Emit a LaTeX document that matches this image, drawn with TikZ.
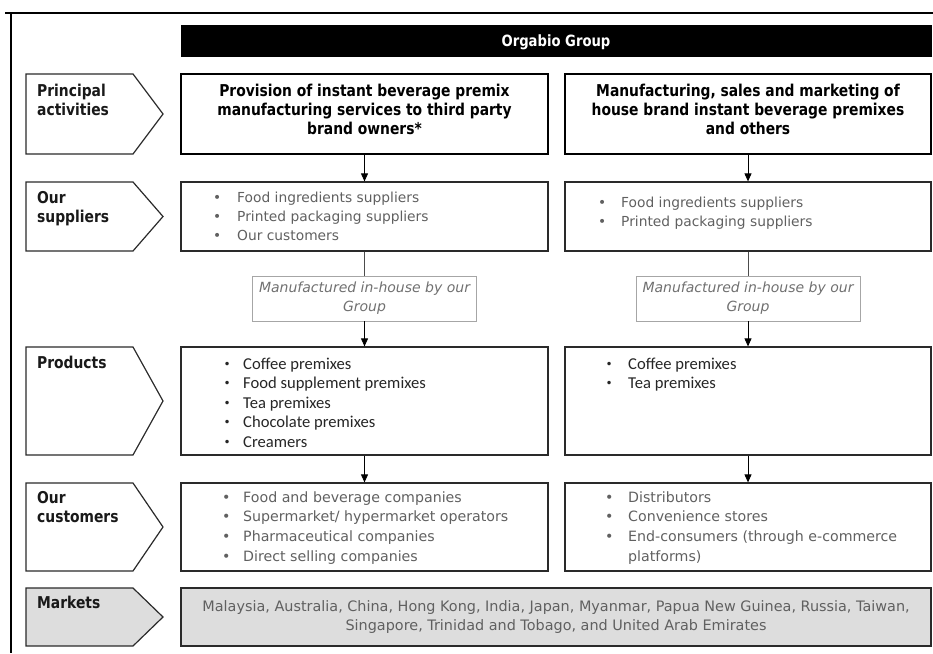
\documentclass[tikz,border=0pt]{standalone}
\usepackage{fontspec}
\setmainfont{DejaVu Sans}
\newfontfamily\calfont{Carlito}
\newfontfamily\hdfont[FakeStretch=0.85]{DejaVu Sans}
\usetikzlibrary{arrows.meta}
\definecolor{bodygray}{HTML}{606060}
\definecolor{itgray}{HTML}{707070}
\definecolor{mktfill}{HTML}{DDDDDD}
\definecolor{edge}{HTML}{2A2A2A}
\newcommand{\bu}[1][19pt]{\llap{\makebox[0pt]{\rmfamily\textbullet}\hspace{#1}}}
\newcommand{\bp}[1][19pt]{\llap{\makebox[0pt]{\raisebox{1pt}{\rmfamily\fontsize{12}{12}\selectfont\textbullet}}\hspace{#1}}}
\begin{document}
\begin{tikzpicture}[x=1pt,y=-1pt,
  box/.style={draw=edge, line width=1.2pt, rectangle, inner sep=0pt},
  topbox/.style={box, draw=black, line width=1.5pt},
  itbox/.style={draw=black!35, line width=0.9pt, rectangle, inner sep=0pt},
  tagshape/.style={draw=edge, line width=1.2pt, line join=miter},
  lbl/.style={anchor=north west, inner sep=0pt, align=left, text=black!90,
    font=\hdfont\bfseries\fontsize{16.3}{19}\selectfont},
  ttl/.style={anchor=north, inner sep=0pt, align=center, text=black,
    font=\hdfont\bfseries\fontsize{16.3}{19}\selectfont},
  lst/.style={anchor=north west, inner sep=0pt, align=left, text=bodygray,
    font=\fontsize{13.8}{19}\selectfont},
  prd/.style={anchor=north west, inner sep=0pt, align=left, text=black!85,
    font=\calfont\fontsize{16.6}{19.5}\selectfont},
  itl/.style={anchor=north, inner sep=0pt, align=center, text=itgray,
    font=\itshape\fontsize{14}{19}\selectfont},
  arr/.style={-{Triangle[length=8pt,width=7pt]}, line width=0.8pt, draw=black},
  con/.style={line width=0.8pt, draw=black!70}]
\useasboundingbox (0,0) rectangle (933,653);

% frame
\draw[line width=2pt] (5,13) -- (933,13);
\draw[line width=1.4pt] (11,13) -- (11,653);

% title bar
\node[fill=black, minimum width=751pt, minimum height=32pt, inner sep=0pt] (bar) at (556,41) {};
\node[anchor=base, inner sep=0pt, text=white, font=\hdfont\bfseries\fontsize{15.5}{18}\selectfont] (bart) at (556,46.5) {Orgabio Group};

% left tags
\newcommand{\tagpath}[3]{\draw[tagshape, fill=#3] (26,#1) -- (133,#1) -- (163,{(#1+#2)/2}) -- (133,#2) -- (26,#2) -- cycle;}
\tagpath{74}{154}{white}
\tagpath{182}{251}{white}
\tagpath{347}{455}{white}
\tagpath{483}{571}{white}
\tagpath{588}{646}{mktfill}

\node[lbl] (l1) at (37,82.7) {\strut Principal\\activities};
\node[lbl] (l2) at (37,189.7) {\strut Our\\suppliers};
\node[lbl] (l3) at (37,354.7) {\strut Products};
\node[lbl] (l4) at (37,489.7) {\strut Our\\customers};
\node[lbl] (l5) at (37,594.7) {\strut Markets};

% row 1
\node[topbox, minimum width=367pt, minimum height=80pt] (a1) at (364.5,114) {};
\node[topbox, minimum width=366pt, minimum height=80pt] (a2) at (748,114) {};
\node[ttl] (a1t) at (364.5,82.7) {\strut Provision of instant beverage premix\\manufacturing services to third party\\brand owners*};
\node[ttl] (a2t) at (748,82.7) {\strut Manufacturing, sales and marketing of\\house brand instant beverage premixes\\and others};

% row 2
\node[box, minimum width=367pt, minimum height=69pt] (s1) at (364.5,216.5) {};
\node[box, minimum width=366pt, minimum height=69pt] (s2) at (748,216.5) {};
\node[lst] (s1t) at (237,189.2) {\strut\bu[20pt]Food ingredients suppliers\\\bu[20pt]Printed packaging suppliers\\\bu[20pt]Our customers};
\node[lst] (s2t) at (621,194.2) {\strut\bu Food ingredients suppliers\\\bu Printed packaging suppliers};

% italic boxes
\node[itbox, minimum width=224pt, minimum height=45pt] (m1) at (364.5,298.5) {};
\node[itbox, minimum width=224pt, minimum height=45pt] (m2) at (748,298.5) {};
\node[itl] (m1t) at (364.5,279.2) {\strut Manufactured in-house by our\\Group};
\node[itl] (m2t) at (748,279.2) {\strut Manufactured in-house by our\\Group};

% row 3
\node[box, minimum width=367pt, minimum height=108pt] (p1) at (364.5,401) {};
\node[box, minimum width=366pt, minimum height=108pt] (p2) at (748,401) {};
\node[prd] (p1t) at (243,355.3) {\strut\bp[16pt]Coffee premixes\\\bp[16pt]Food supplement premixes\\\bp[16pt]Tea premixes\\\bp[16pt]Chocolate premixes\\\bp[16pt]Creamers};
\node[prd] (p2t) at (628,355.3) {\strut\bp Coffee premixes\\\bp Tea premixes};

% row 4
\node[box, minimum width=367pt, minimum height=88pt] (c1) at (364.5,527) {};
\node[box, minimum width=366pt, minimum height=88pt] (c2) at (748,527) {};
\node[lst, font=\fontsize{14.2}{19.8}\selectfont] (c1t) at (243,488.1) {\strut\bu[17pt]Food and beverage companies\\\bu[17pt]Supermarket/ hypermarket operators\\\bu[17pt]Pharmaceutical companies\\\bu[17pt]Direct selling companies};
\node[lst, font=\fontsize{14.2}{19.8}\selectfont] (c2t) at (628,488.1) {\strut\bu Distributors\\\bu Convenience stores\\\bu End-consumers (through e-commerce\\platforms)};

% row 5
\node[box, fill=mktfill, minimum width=750pt, minimum height=58pt] (k1) at (556,617) {};
\node[anchor=north, inner sep=0pt, align=center, text=bodygray, font=\fontsize{14.4}{18.5}\selectfont] (k1t) at (556,598.5) {\strut Malaysia, Australia, China, Hong Kong, India, Japan, Myanmar, Papua New Guinea, Russia, Taiwan,\\Singapore, Trinidad and Tobago, and United Arab Emirates};

% connectors
\draw[arr] (a1.south) -- (s1.north);
\draw[arr] (a2.south) -- (s2.north);
\draw[con] (s1.south) -- (m1.north);
\draw[con] (s2.south) -- (m2.north);
\draw[arr] (m1.south) -- (p1.north);
\draw[arr] (m2.south) -- (p2.north);
\draw[arr] (p1.south) -- (c1.north);
\draw[arr] (p2.south) -- (c2.north);
\end{tikzpicture}
\end{document}
